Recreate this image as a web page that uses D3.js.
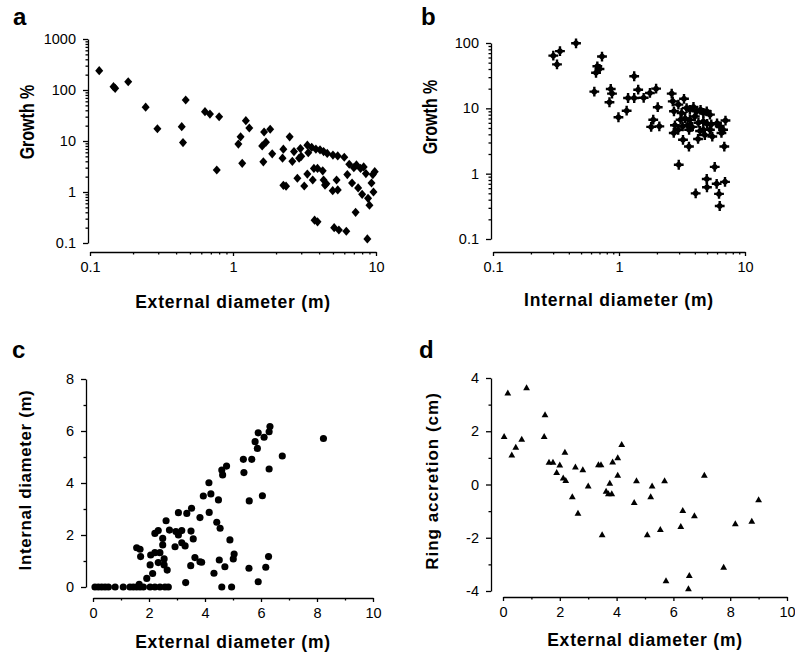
<!DOCTYPE html>
<html>
<head>
<meta charset="utf-8">
<script src="https://cdn.jsdelivr.net/npm/d3@7/dist/d3.min.js"></script>
<style>
  html, body { margin: 0; padding: 0; background: #fff; }
  svg { display: block; }
  .tick text { font-family: "Liberation Sans", Arial, sans-serif; font-size: 14.5px; fill: #000; }
  .axis path, .axis line { stroke: #000; stroke-width: 1.3px; }
  .ttl { font-family: "Liberation Sans", Arial, sans-serif; font-weight: bold; fill: #000; }
  .letter { font-family: "Liberation Sans", Arial, sans-serif; font-weight: bold; font-size: 24px; fill: #000; }
</style>
</head>
<body>
<svg id="fig" width="795" height="661"></svg>
<script>
// Panel a: growth (%) against external diameter (m), log-log
const aExternal = [0.116,0.146,0.15,0.185,0.245,0.296,0.438,0.447,0.467,0.637,0.69,0.80,0.77,
  1.23,1.30,1.13,1.09,1.16,1.65,1.82,1.6,1.7,1.88,1.63,2.49,2.25,2.22,2.25,2.35,2.67,2.6,2.96,2.9,3.0,
  2.82,3.15,3.31,3.36,3.31,3.61,3.68,3.9,3.55,3.8,4.06,4.3,4.56,5.0,5.4,3.72,3.9,5.1,5.5,4.4,4.3,4.5,
  4.98,5.3,5.4,4.24,
  6.0,6.5,7.0,7.3,7.8,8.2,8.5,9.5,9.8,6.3,6.8,7.5,8.0,8.8,9.3,6.2,8.7,7.2,9.0,9.6];
const aGrowth = [239,116,108,145,46,17.4,19.1,9.3,63.7,37.6,33.8,29.9,2.7,
  25,18,12.1,8.7,3.65,15,17,8,9.5,5.6,3.9,12.1,6.9,4.6,1.35,1.3,6.2,4.0,7.1,4.6,5.0,
  1.86,1.31,8.3,5.9,2.25,1.72,2.9,2.9,7.5,6.9,6.7,6.2,5.7,5.3,5.1,0.28,0.26,0.2,0.18,1.37,1.72,1.45,
  1.06,1.72,1.1,2.6,
  4.8,3.5,3.0,3.4,2.9,3.1,2.3,2.2,2.5,2.2,1.5,1.2,0.9,0.75,1.5,0.17,0.12,0.4,0.55,1.0];

// Panel b: growth (%) against internal diameter (m), log-log
const bInternal = [0.456,0.301,0.34,0.322,0.733,0.673,0.657,0.70,0.637,1.32,0.86,0.88,0.84,0.99,1.15,
  1.18,1.32,1.42,1.57,1.76,1.97,2.03,1.87,1.8,2.09,2.62,2.67,3.28,2.73,2.98,2.72,3.22,3.59,4.06,4.24,
  4.97,4.99,5.75,5.96,6.94,6.22,6.3,6.85,
  2.96,3.14,3.44,3.65,3.9,4.13,4.44,4.67,4.97,5.27,3.08,3.35,3.65,4.0,4.27,4.67,5.0,5.27,5.5,5.4,
  6.3,6.7,7.0,6.5,3.2,2.95,2.78,3.5,4.67,4.8,3.8,4.4,3.6,6.0];
const bGrowth = [99,64,75,47,62,44,35,40,18,31,19.8,16.8,12.4,7.3,9.2,
  14.4,14.4,19.3,14.5,17.2,20,10.4,6.7,5.2,5.3,16.8,12.8,14,9,1.37,4.2,3.3,2.6,0.5,3.4,
  0.83,0.62,1.27,0.70,0.75,0.49,0.32,2.6,
  11.4,8.5,10.1,9.5,10.5,9,9.5,8.5,9,8.0,6.7,7,6.7,7.5,6,6.3,5.8,4.7,3.7,5.7,
  5.3,4.7,6.5,4.2,5.3,4.7,5.5,5.5,4.7,3.9,5.2,4.5,4.7,5.9];

// Panel c: internal against external diameter (m)
const cExternal = [0.07,0.19,0.31,0.43,0.55,0.79,1.08,1.32,1.44,1.56,1.68,1.8,2.04,2.21,2.39,2.57,2.69,
  4.6,4.95,1.65,1.92,2.13,2.04,2.33,2.65,2.54,2.54,2.06,2.21,2.39,1.70,1.56,1.68,2.49,2.49,2.21,2.33,
  2.61,2.73,2.93,2.96,3.05,3.17,3.17,3.29,3.05,3.35,3.52,3.5,3.58,3.31,3.49,3.64,3.82,3.88,3.82,3.94,
  4.14,4.21,4.15,4.48,4.42,4.54,4.32,4.51,4.71,4.6,4.63,4.77,4.89,5.04,5.01,5.37,5.39,5.67,5.58,5.57,
  5.9,5.79,5.87,5.9,6.11,6.29,6.32,6.05,6.29,6.17,6.27,6.76,8.23];
const cInternal = [0,0,0,0,0,0,0,0,0,0,0,0,0,0,0,0,0,
  0,0,0.1,0.33,0.52,0.85,0.94,0.65,1.08,0.85,1.23,1.32,1.32,1.17,1.51,1.45,1.62,1.87,2.06,2.17,
  2.55,2.19,1.55,2.13,2.0,2.17,1.7,1.58,2.86,2.83,3.03,2.15,1.85,0.17,0.82,1.13,0.97,0.95,2.67,3.5,
  4.01,3.58,2.87,3.35,2.49,2.26,0.53,1.04,0.78,4.5,4.31,4.65,1.81,1.27,1.08,4.91,4.4,4.91,3.31,0.72,
  0.2,5.59,5.33,5.93,5.76,5.97,6.17,3.51,4.54,0.76,1.17,5.04,5.71];

// Panel d: ring accretion (cm) against external diameter (m)
const dExternal = [0.17,0.83,1.48,0.04,0.66,0.45,0.31,1.45,1.62,1.76,2.0,2.18,1.89,2.12,2.21,2.55,2.81,
  2.44,2.64,3.0,3.36,3.45,3.49,3.76,3.63,3.71,3.83,3.86,4.04,4.04,4.18,4.7,4.62,5.25,5.2,5.08,5.69,
  5.54,5.74,6.26,6.33,6.74,6.56,6.53,7.09,7.77,8.18,8.76,9.0];
const dRing = [3.43,3.63,2.62,1.8,1.7,1.4,1.1,1.8,0.83,0.83,0.73,1.21,0.45,0.24,0.15,0.65,0.55,
  -0.46,-1.08,-0.06,0.74,0.74,-1.89,0.04,-0.26,-0.35,-0.35,0.84,1.0,0.34,1.5,0.14,-0.68,-0.06,-0.46,-1.89,0.14,
  -1.69,-3.62,-1.58,-0.98,-1.18,-3.42,-3.92,0.34,-3.11,-1.48,-1.38,-0.58];

const logTicks = [0.1, 1, 10, 100, 1000];
const linTicksC = [0, 2, 4, 6, 8];
const linTicksD = [-4, -2, 0, 2, 4];
const linTicksX = [0, 2, 4, 6, 8, 10];

const svg = d3.select("#fig");

// marker shapes
const diamond = "M0,-4.6L4,0L0,4.6L-4,0Z";
const plusDiamond = "M0,-4L4,0L0,4L-4,0Z M-1.2,-4.9h2.4v9.8h-2.4Z M-4.9,-1.2h9.8v2.4h-9.8Z";
const triangle = "M0,-3.6L3.4,2.4L-3.4,2.4Z";

function logMinor(domain) {
  const out = [];
  for (let e = Math.round(Math.log10(domain[0])); e < Math.round(Math.log10(domain[1])); e++) {
    for (let k = 2; k <= 9; k++) out.push(k * Math.pow(10, e));
  }
  return out;
}

function fmt(v) { return String(+v.toPrecision(3)); }

function panel(o) {
  const g = svg.append("g");
  // y axis
  const yMaj = d3.axisLeft(o.y).tickValues(o.yTicks).tickFormat(fmt).tickSize(5).tickSizeOuter(0).tickPadding(6);
  const ya = g.append("g").attr("class", "axis").attr("transform", `translate(${o.yAxisX},0)`).call(yMaj);
  ya.selectAll(".tick text").attr("dx", "-1");
  g.append("g").attr("class", "axis").attr("transform", `translate(${o.yAxisX},0)`)
    .call(d3.axisLeft(o.y).tickValues(o.yMinor).tickFormat("").tickSize(2.5).tickSizeOuter(0))
    .select(".domain").remove();
  // x axis
  const xMaj = d3.axisBottom(o.x).tickValues(o.xTicks).tickFormat(fmt).tickSize(4).tickSizeOuter(0).tickPadding(6);
  g.append("g").attr("class", "axis").attr("transform", `translate(0,${o.xAxisY})`).call(xMaj);
  g.append("g").attr("class", "axis").attr("transform", `translate(0,${o.xAxisY})`)
    .call(d3.axisBottom(o.x).tickValues(o.xMinor).tickFormat("").tickSize(2.5).tickSizeOuter(0))
    .select(".domain").remove();
  // points
  g.append("g").selectAll("path").data(o.xs.map((v, i) => [v, o.ys[i]])).join("path")
    .attr("d", o.shape)
    .attr("transform", d => `translate(${o.x(d[0])},${o.y(d[1])})`)
    .attr("fill", "#000");
  // titles
  const [x0, x1] = o.x.range();
  g.append("text").attr("class", "ttl").attr("x", (x0 + x1) / 2).attr("y", o.xTitleY)
    .attr("text-anchor", "middle").style("font-size", "17.5px").style("letter-spacing", "0.8px").text(o.xTitle);
  g.append("text").attr("class", "ttl")
    .attr("transform", `translate(${o.yTitleX},${o.yTitleMid}) rotate(-90) scale(${o.yTitleSquash},1)`)
    .attr("text-anchor", "middle").style("font-size", o.yTitleSize).style("letter-spacing", o.yTitleSpacing)
    .text(o.yTitle);
  g.append("text").attr("class", "letter").attr("x", o.letterX).attr("y", o.letterY).text(o.letter);
}

panel({
  x: d3.scaleLog().domain([0.1, 10]).range([90, 376]),
  y: d3.scaleLog().domain([0.1, 1000]).range([243, 39]),
  xTicks: [0.1, 1, 10], yTicks: logTicks, xMinor: logMinor([0.1, 10]), yMinor: logMinor([0.1, 1000]),
  yAxisX: 88, xAxisY: 252, xs: aExternal, ys: aGrowth, shape: diamond,
  xTitle: "External diameter (m)", xTitleY: 308,
  yTitle: "Growth %", yTitleX: 34, yTitleMid: 122, yTitleSize: "20px", yTitleSpacing: "0px", yTitleSquash: 0.8,
  letter: "a", letterX: 13, letterY: 25
});

panel({
  x: d3.scaleLog().domain([0.1, 10]).range([493, 745]),
  y: d3.scaleLog().domain([0.1, 100]).range([239, 43]),
  xTicks: [0.1, 1, 10], yTicks: [0.1, 1, 10, 100], xMinor: logMinor([0.1, 10]), yMinor: logMinor([0.1, 100]),
  yAxisX: 491, xAxisY: 252, xs: bInternal, ys: bGrowth, shape: plusDiamond,
  xTitle: "Internal diameter (m)", xTitleY: 306,
  yTitle: "Growth %", yTitleX: 437, yTitleMid: 117, yTitleSize: "20px", yTitleSpacing: "0px", yTitleSquash: 0.8,
  letter: "b", letterX: 421, letterY: 25
});

panel({
  x: d3.scaleLinear().domain([0, 10]).range([93, 373]),
  y: d3.scaleLinear().domain([0, 8]).range([587, 379]),
  xTicks: linTicksX, yTicks: linTicksC, xMinor: [1, 3, 5, 7, 9], yMinor: [1, 3, 5, 7],
  yAxisX: 86, xAxisY: 598, xs: cExternal, ys: cInternal, shape: d3.symbol(d3.symbolCircle, 40)(),
  xTitle: "External diameter (m)", xTitleY: 648,
  yTitle: "Internal diameter (m)", yTitleX: 31, yTitleMid: 480, yTitleSize: "17px", yTitleSpacing: "0.6px", yTitleSquash: 1,
  letter: "c", letterX: 12, letterY: 358
});

panel({
  x: d3.scaleLinear().domain([0, 10]).range([503, 787]),
  y: d3.scaleLinear().domain([-4, 4]).range([591, 378]),
  xTicks: linTicksX, yTicks: linTicksD, xMinor: [1, 3, 5, 7, 9], yMinor: [-3, -1, 1, 3],
  yAxisX: 491, xAxisY: 597, xs: dExternal, ys: dRing, shape: triangle,
  xTitle: "External diameter (m)", xTitleY: 646,
  yTitle: "Ring accretion (cm)", yTitleX: 438, yTitleMid: 481, yTitleSize: "17px", yTitleSpacing: "1px", yTitleSquash: 1,
  letter: "d", letterX: 419, letterY: 358
});
</script>
</body>
</html>
